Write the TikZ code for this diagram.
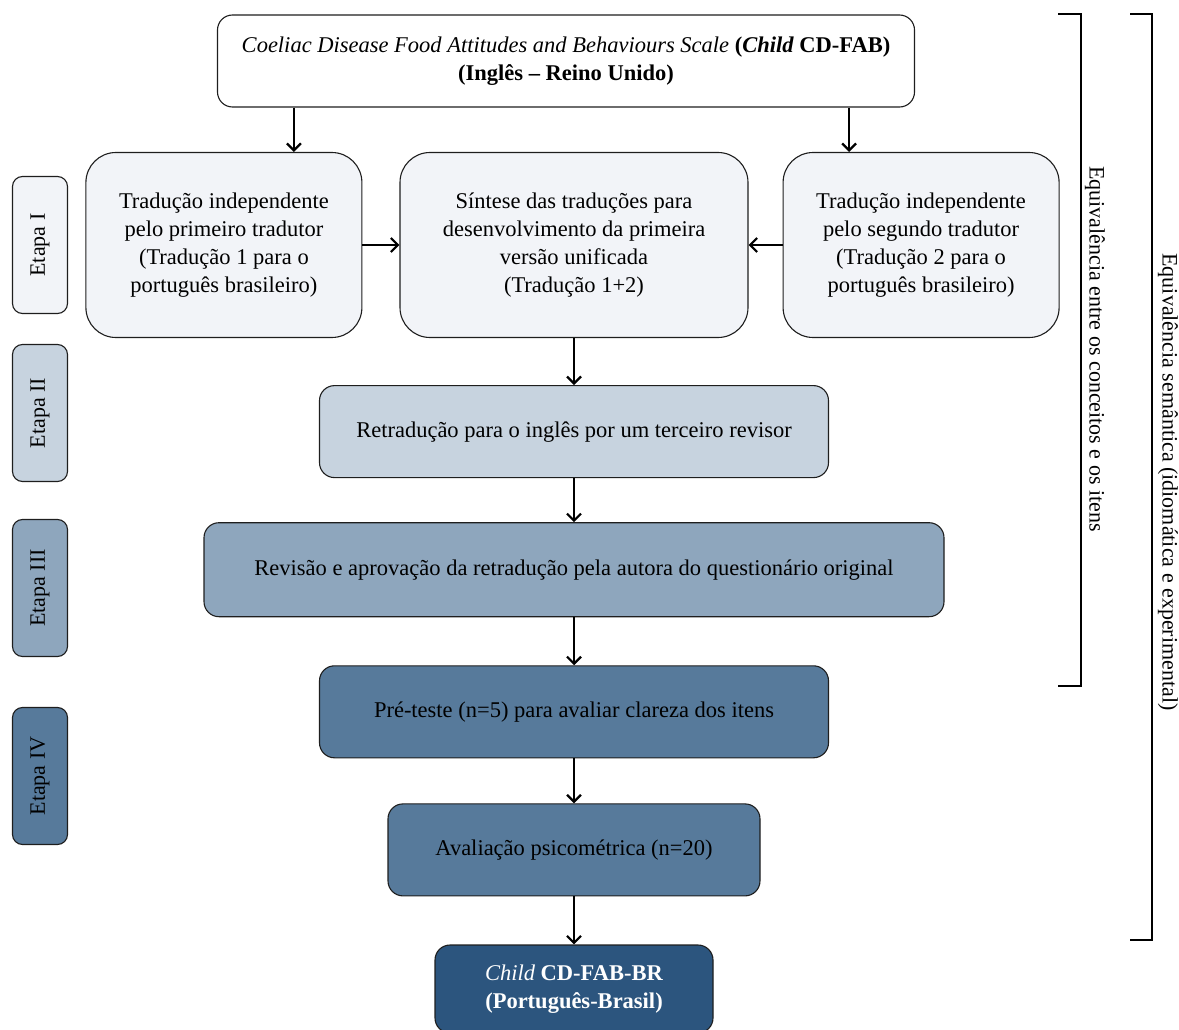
\documentclass[tikz,border=0pt]{standalone}
\usepackage{fontspec}
\setmainfont{Liberation Serif}
\usepackage{xcolor}
\usetikzlibrary{positioning,calc,arrows.meta}

\definecolor{etapaA}{RGB}{242,244,248}
\definecolor{etapaB}{RGB}{199,211,223}
\definecolor{etapaC}{RGB}{142,166,189}
\definecolor{etapaD}{RGB}{87,122,155}
\definecolor{etapaE}{RGB}{44,85,126}
\definecolor{linha}{RGB}{30,30,30}

\begin{document}
\begin{tikzpicture}[x=1pt, y=-1pt, node distance=46pt,
    fab block/.style={rectangle, draw=linha, line width=1.1pt, rounded corners=15pt, align=center, inner sep=0pt, font=\fontsize{22.5}{28}\selectfont},
    fab wide/.style={fab block, rounded corners=30pt},
    fab etapa/.style={rectangle, draw=linha, line width=1.1pt, rounded corners=10pt, rotate=90, inner sep=0pt, minimum width=137pt, minimum height=55pt, font=\fontsize{22}{28}\selectfont},
    fab arrow/.style={-{Straight Barb[length=7pt,width=14pt,line width=2.2pt]}, line width=2pt},
    fab bracket/.style={line width=1.4pt},
    fab side/.style={rotate=-90, inner sep=0pt, font=\fontsize{22}{26}\selectfont}]

    \useasboundingbox (0,0) rectangle (1179,1030);

    % escala original
    \node [fab block, fill=white, minimum width=697pt, minimum height=92pt] (scale) at (566,61)
        {\textit{Coeliac Disease Food Attitudes and Behaviours Scale} \textbf{(\textit{Child} CD-FAB)}\\ \textbf{(Inglês – Reino Unido)}};

    % etapa I
    \node [fab wide, fill=etapaA, minimum width=348pt, minimum height=185pt] (sintese) at (574,245)
        {Síntese das traduções para\\ desenvolvimento da primeira\\ versão unificada\\ (Tradução 1+2)};
    \node [fab wide, fill=etapaA, minimum width=276pt, minimum height=185pt, left=37pt of sintese] (trad1)
        {Tradução independente\\ pelo primeiro tradutor\\ (Tradução 1 para o\\ português brasileiro)};
    \node [fab wide, fill=etapaA, minimum width=276pt, minimum height=185pt, right=34pt of sintese] (trad2)
        {Tradução independente\\ pelo segundo tradutor\\ (Tradução 2 para o\\ português brasileiro)};

    % etapas II a IV
    \node [fab block, fill=etapaB, minimum width=509pt, minimum height=92pt, below=47pt of sintese] (retrad)
        {Retradução para o inglês por um terceiro revisor};
    \node [fab block, fill=etapaC, minimum width=740pt, minimum height=94pt, below=44pt of retrad] (revisao)
        {Revisão e aprovação da retradução pela autora do questionário original};
    \node [fab block, fill=etapaD, minimum width=509pt, minimum height=92pt, below=48pt of revisao] (preteste)
        {Pré-teste (n=5) para avaliar clareza dos itens};
    \node [fab block, fill=etapaD, minimum width=372pt, minimum height=92pt, below=45pt of preteste] (psico)
        {Avaliação psicométrica (n=20)};
    \node [fab block, fill=etapaE, text=white, minimum width=278pt, minimum height=88pt, below=48pt of psico] (final)
        {\textit{Child} \textbf{CD-FAB-BR}\\ \textbf{(Português-Brasil)}};

    % rótulos das etapas
    \node [fab etapa, fill=etapaA] (e1) at (40,245) {Etapa I};
    \node [fab etapa, fill=etapaB] (e2) at (40,413) {Etapa II};
    \node [fab etapa, fill=etapaC] (e3) at (40,588) {Etapa III};
    \node [fab etapa, fill=etapaD] (e4) at (40,776) {Etapa IV};

    % setas
    \coordinate (in1) at ([xshift=70pt]trad1.north);
    \coordinate (in2) at ([xshift=-72pt]trad2.north);
    \draw [fab arrow] (in1 |- scale.south) -- (in1);
    \draw [fab arrow] (in2 |- scale.south) -- (in2);
    \draw [fab arrow] (trad1.east) -- (sintese.west);
    \draw [fab arrow] (trad2.west) -- (sintese.east);
    \draw [fab arrow] (sintese) -- (retrad);
    \draw [fab arrow] (retrad) -- (revisao);
    \draw [fab arrow] (revisao) -- (preteste);
    \draw [fab arrow] (preteste) -- (psico);
    \draw [fab arrow] (psico) -- (final);

    % chaves de equivalência
    \draw [fab bracket] (1058,14) -- (1081,14) -- (1081,686) -- (1058,686);
    \draw [fab bracket] (1130,14) -- (1152,14) -- (1152,940) -- (1130,940);
    \node [fab side] (conceitos) at (1095,349) {Equivalência entre os conceitos e os itens};
    \node [fab side] (semantica) at (1168,482) {Equivalência semântica (idiomática e experimental)};

\end{tikzpicture}
\end{document}
